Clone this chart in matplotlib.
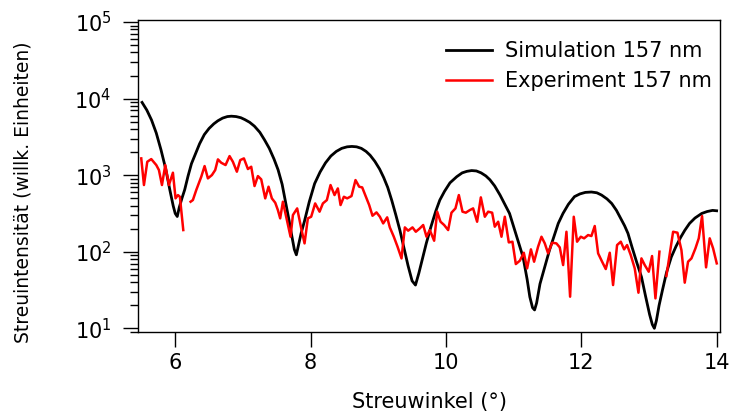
import numpy as np
import matplotlib
matplotlib.use("Agg")
import matplotlib.pyplot as plt
from matplotlib.ticker import LogLocator, NullFormatter, FixedLocator

# Simulation 157 nm (black): angle and log10 intensity
sim_x = [5.51, 5.58, 5.65, 5.72, 5.79, 5.86, 5.92, 5.97, 6.00, 6.03,
         6.06, 6.10, 6.14, 6.19, 6.24, 6.30, 6.36, 6.43, 6.50, 6.57, 6.63, 6.70, 6.77,
         6.83, 6.90, 6.97, 7.03, 7.10, 7.17, 7.25, 7.32, 7.39, 7.46, 7.52, 7.58, 7.63,
         7.68, 7.72, 7.76, 7.79,
         7.82, 7.86, 7.91, 7.98, 8.06, 8.14, 8.22, 8.30, 8.38, 8.46, 8.54, 8.61, 8.68,
         8.75, 8.82, 8.88, 8.95, 9.02, 9.08, 9.14, 9.20, 9.26, 9.32, 9.38, 9.44, 9.50, 9.55,
         9.60, 9.66, 9.71, 9.78, 9.85, 9.91, 9.98, 10.06, 10.16, 10.24, 10.31, 10.38,
         10.45, 10.52, 10.59, 10.65, 10.72, 10.80, 10.87, 10.94, 11.00, 11.06, 11.14,
         11.20, 11.24, 11.28, 11.31,
         11.34, 11.39, 11.46, 11.53, 11.60, 11.66, 11.73, 11.81, 11.90, 11.98, 12.06,
         12.15, 12.23, 12.30, 12.38, 12.45, 12.52, 12.58, 12.64, 12.69, 12.75, 12.82,
         12.89, 12.95, 13.01, 13.05, 13.08,
         13.11, 13.15, 13.20, 13.26, 13.33, 13.40, 13.47, 13.53, 13.60, 13.68, 13.78,
         13.86, 13.94, 14.00]
sim_logy = [3.95, 3.85, 3.72, 3.55, 3.33, 3.08, 2.81, 2.60, 2.50, 2.46,
            2.58, 2.70, 2.81, 2.99, 3.15, 3.28, 3.41, 3.53, 3.61, 3.67, 3.71, 3.745, 3.765,
            3.77, 3.765, 3.75, 3.725, 3.69, 3.64, 3.56, 3.46, 3.35, 3.21, 3.07, 2.88, 2.65,
            2.42, 2.22, 2.03, 1.96,
            2.08, 2.24, 2.40, 2.65, 2.89, 3.04, 3.16, 3.25, 3.31, 3.35, 3.37, 3.375, 3.37,
            3.35, 3.31, 3.26, 3.18, 3.08, 2.97, 2.84, 2.67, 2.48, 2.28, 2.05, 1.82, 1.62, 1.565,
            1.72, 1.93, 2.11, 2.33, 2.53, 2.675, 2.79, 2.90, 2.98, 3.03, 3.05, 3.06,
            3.055, 3.03, 2.99, 2.94, 2.86, 2.74, 2.62, 2.50, 2.33, 2.16, 1.93,
            1.64, 1.41, 1.27, 1.24,
            1.33, 1.58, 1.80, 2.02, 2.21, 2.37, 2.50, 2.62, 2.72, 2.755, 2.775,
            2.78, 2.77, 2.74, 2.69, 2.63, 2.54, 2.44, 2.34, 2.24, 2.06, 1.86,
            1.67, 1.42, 1.18, 1.05, 1.00,
            1.10, 1.30, 1.50, 1.73, 1.93, 2.07, 2.19, 2.28, 2.37, 2.44, 2.50,
            2.525, 2.54, 2.535]

# Experiment 157 nm (red), log10 intensity; NaN marks gaps in the measured data
exp_x = [5.498, 5.538, 5.587, 5.646, 5.720, 5.759, 5.804, 5.853, 5.907, 5.966, 6.005, 6.040,
         6.069, 6.119, 6.17,
         6.227, 6.261, 6.311, 6.385, 6.434, 6.483, 6.542, 6.591, 6.631, 6.680, 6.744, 6.803,
         6.852, 6.911, 6.961, 7.015, 7.074, 7.123, 7.172, 7.222, 7.271, 7.330, 7.379, 7.428,
         7.478, 7.517, 7.551, 7.591, 7.640, 7.704, 7.739, 7.802, 7.862, 7.911, 7.960, 8.009,
         8.068, 8.133, 8.182, 8.241, 8.295, 8.354, 8.403, 8.443, 8.492, 8.541, 8.605, 8.664,
         8.718, 8.763, 8.817, 8.866, 8.915, 8.974, 9.024, 9.073, 9.132, 9.171, 9.230, 9.285,
         9.344, 9.393, 9.442, 9.506, 9.555, 9.614, 9.664, 9.713, 9.762, 9.826, 9.871, 9.920,
         9.974, 10.033, 10.082, 10.141, 10.191, 10.245, 10.294, 10.353, 10.402, 10.461,
         10.516, 10.575, 10.624, 10.683, 10.722, 10.772, 10.821, 10.870, 10.929, 10.983,
         11.033, 11.092, 11.151, 11.200, 11.256, 11.303, 11.362, 11.412, 11.461, 11.510,
         11.569, 11.633, 11.682, 11.732, 11.781, 11.835, 11.889, 11.938, 11.993, 12.042,
         12.101, 12.150, 12.199, 12.249, 12.308, 12.362, 12.421, 12.470, 12.529, 12.584,
         12.633, 12.677, 12.731, 12.790, 12.845, 12.889, 12.938, 12.997, 13.046, 13.096,
         13.155, 13.20,
         13.258, 13.357, 13.421, 13.480, 13.529, 13.578, 13.628, 13.687, 13.736, 13.785,
         13.844, 13.898, 13.948, 14.002]
exp_logy = [3.219, 2.871, 3.175, 3.210, 3.132, 3.067, 2.871, 3.132, 2.871, 3.032, 2.697, 2.740,
            2.718, 2.283, np.nan,
            2.653, 2.675, 2.806, 2.980, 3.119, 2.958, 3.001, 3.067, 3.206, 3.162, 3.132, 3.249,
            3.175, 3.045, 3.197, 3.219, 3.080, 3.110, 2.858, 2.988, 2.945, 2.697, 2.849, 2.697,
            2.640, 2.544, 2.436, 2.653, 2.457, 2.196, 2.479, 2.566, 2.305, 2.109, 2.436, 2.457,
            2.631, 2.523, 2.631, 2.675, 2.871, 2.740, 2.827, 2.610, 2.718, 2.697, 2.727, 2.936,
            2.849, 2.840, 2.718, 2.610, 2.470, 2.514, 2.457, 2.370, 2.449, 2.318, 2.196, 2.066,
            1.913, 2.318, 2.275, 2.318, 2.261, 2.305, 2.349, 2.196, 2.283, 2.144, 2.523, 2.392,
            2.349, 2.283, 2.510, 2.566, 2.740, 2.523, 2.510, 2.544, 2.566, 2.392,
            2.710, 2.457, 2.523, 2.510, 2.327, 2.392, 2.196, 2.457, 2.122, 2.131,
            1.839, 1.883, 1.987, 1.783, 2.031, 1.870, 2.066, 2.196, 2.109, 1.979,
            2.118, 2.109, 2.057, 1.826, 2.261, 1.413, 2.457, 2.131, 2.196, 2.175,
            2.218, 2.205, 2.336, 1.979, 1.870, 1.774, 1.987, 1.565, 2.087, 2.131,
            2.031, 2.087, 1.957, 1.783, 1.465, 1.913, 1.826, 1.739, 1.944, 1.391,
            2.001, np.nan,
            1.683, 2.261, 2.249, 2.022, 1.596, 1.870, 1.913, 2.044, 2.175, 2.466,
            1.796, 2.175, 2.044, 1.848]

x_ticks = [6, 8, 10, 12, 14]

fig = plt.figure(figsize=(7.31, 4.16), dpi=100)
ax = fig.add_axes([138/731, 1 - 332/416, (720 - 138)/731, (332 - 19.7)/416])

sim_y = np.power(10.0, np.array(sim_logy))
exp_y = np.power(10.0, np.array(exp_logy))
ax.plot(sim_x, sim_y, color='black', lw=2.0, label='Simulation 157 nm',
        solid_joinstyle='round')
ax.plot(exp_x, exp_y, color='#ff0000', lw=1.8, label='Experiment 157 nm')

ax.set_yscale('log')
ax.set_xlim(5.45, 14.05)
ax.set_ylim(10**0.952, 10**5.03)
ax.xaxis.set_major_locator(FixedLocator(x_ticks))
ax.yaxis.set_major_locator(LogLocator(base=10, numticks=10))
ax.yaxis.set_minor_locator(LogLocator(base=10, subs=np.arange(2, 10), numticks=10))
ax.yaxis.set_minor_formatter(NullFormatter())

ax.tick_params(axis='both', which='major', direction='out', length=11, width=1.0,
               labelsize=15)
ax.tick_params(axis='x', which='major', pad=4)
ax.tick_params(axis='y', which='major', pad=8)
ax.tick_params(axis='y', which='minor', direction='out', length=5.8, width=1.0)
ax.tick_params(axis='x', which='minor', length=0)
for s in ax.spines.values():
    s.set_linewidth(1.0)

ax.set_xlabel('Streuwinkel (°)', fontsize=15, labelpad=14)
ax.set_ylabel('Streuintensität (willk. Einheiten)', fontsize=13.5)
ax.yaxis.set_label_coords((33 - 138) / 582, (332 - 192) / 312.3)

leg = ax.legend(loc='upper right', bbox_to_anchor=(1.0, 0.957), frameon=False,
                fontsize=15, handlelength=2.2, handletextpad=0.6, borderaxespad=0.0,
                borderpad=0.4, labelspacing=0.45)

fig.savefig('out.png', dpi=100)
